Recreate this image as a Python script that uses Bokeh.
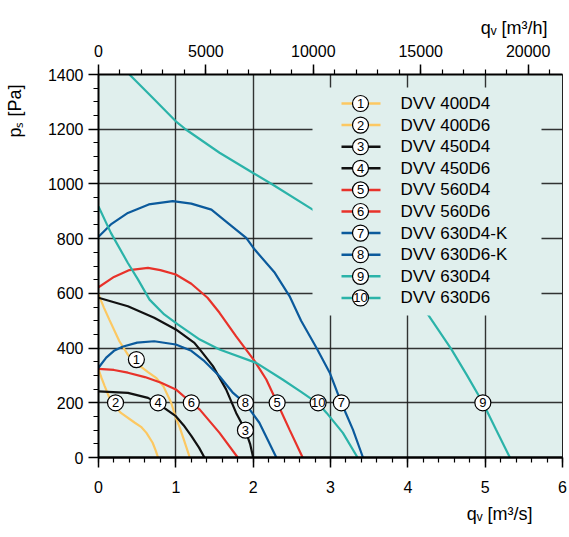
import math
from bokeh.plotting import figure
from bokeh.models import Range1d, LinearAxis, SingleIntervalTicker, Title, BasicTickFormatter
from bokeh.core.properties import value
from bokeh.embed import file_html
from bokeh.resources import INLINE

# ---------------- data ----------------
series_names = ["DVV 400D4", "DVV 400D6", "DVV 450D4", "DVV 450D6", "DVV 560D4",
                "DVV 560D6", "DVV 630D4-K", "DVV 630D6-K", "DVV 630D4", "DVV 630D6"]
series_colors = ["#fcc862", "#fcc862", "#111111", "#111111", "#e8322a",
                 "#e8322a", "#0b5a9c", "#0b5a9c", "#2bb3a9", "#2bb3a9"]

q1 = [0, 0.07, 0.14, 0.27, 0.38, 0.50, 0.64, 0.75, 0.84, 0.94, 1.00, 1.05, 1.11, 1.18]
p1 = [596, 548, 504, 425, 376, 342, 312, 290, 260, 200, 145, 110, 60, 0]
q2 = [0, 0.04, 0.08, 0.16, 0.29, 0.47, 0.55, 0.62, 0.70, 0.74, 0.77]
p2 = [322, 290, 261, 205, 163, 127, 112, 90, 54, 25, 0]
q3 = [0, 0.38, 0.72, 1.00, 1.24, 1.31, 1.48, 1.65, 1.78, 1.90, 1.96, 2.00]
p3 = [584, 553, 511, 468, 419, 395, 334, 249, 163, 99, 50, 0]
q4 = [0, 0.38, 0.64, 0.77, 1.00, 1.10, 1.20, 1.30, 1.37]
p4 = [242, 236, 218, 197, 151, 118, 79, 36, 0]
q5 = [0, 0.2, 0.4, 0.64, 0.8, 1.0, 1.2, 1.41, 1.565, 1.78, 2.02, 2.17, 2.31, 2.47, 2.64]
p5 = [622, 660, 685, 693, 685, 669, 635, 584, 529, 443, 352, 285, 200, 102, 0]
q6 = [0, 0.2, 0.38, 0.60, 0.81, 1.0, 1.2, 1.31, 1.565, 1.8]
p6 = [324, 320, 310, 294, 273, 249, 200, 175, 90, 0]
q7 = [0, 0.16, 0.38, 0.65, 0.96, 1.20, 1.46, 1.67, 1.91, 2.02, 2.28, 2.47, 2.62, 2.82, 2.99, 3.14, 3.29, 3.42]
p7 = [807, 852, 894, 925, 937, 928, 906, 858, 803, 760, 675, 590, 500, 400, 310, 200, 102, 0]
q8 = [0, 0.1, 0.2, 0.31, 0.5, 0.72, 1.0, 1.2, 1.37, 1.565, 1.74, 1.9, 2.08, 2.3]
p8 = [328, 365, 390, 405, 420, 425, 413, 390, 352, 297, 236, 197, 127, 0]
q9 = [0.40, 0.70, 1.00, 1.13, 1.565, 2.01, 2.25, 2.77, 3.5, 4.27, 4.56, 4.76, 4.97, 5.14, 5.32]
p9 = [1400, 1315, 1229, 1199, 1114, 1038, 998, 906, 740, 519, 397, 303, 200, 102, 0]
q10 = [0, 0.16, 0.38, 0.51, 0.66, 0.85, 1.03, 1.31, 1.565, 2.04, 2.38, 2.62, 2.84, 2.95, 3.16, 3.35]
p10 = [918, 821, 711, 651, 577, 523, 486, 431, 395, 346, 285, 240, 197, 163, 90, 0]

curves_q = [q1, q2, q3, q4, q5, q6, q7, q8, q9, q10]
curves_p = [p1, p2, p3, p4, p5, p6, p7, p8, p9, p10]

label_nums = ["1", "2", "3", "4", "5", "6", "7", "8", "9", "10"]
label_q = [0.49, 0.22, 1.90, 0.77, 2.31, 1.20, 3.14, 1.90, 4.97, 2.84]
label_p = [358, 200, 100, 200, 200, 200, 200, 200, 200, 200]

x_title = "q\u1d65  [m\u00b3/s]"
top_title = "q\u1d65  [m\u00b3/h]"
y_title = "p\u209b [Pa]\n "

x_ticks_step = 1
y_ticks_step = 200
top_ticks_step = 5000
Q_MAX = 6
P_MAX = 1400
M3H_PER_M3S = 3600

# ---------------- layout ----------------
BL, BR, BT, BB = 98, 6, 74, 77
FW, FH = 464, 383
W, H = BL + FW + BR, BT + FH + BB
ORG_X, ORG_Y = 1, 1   # observed page offset of the canvas

def qx(px):
    return (px - ORG_X - BL) * Q_MAX / FW

def py(pyy):
    return (ORG_Y + BT + FH - pyy) * P_MAX / FH

FONT = "Liberation Sans"
BG = "#e0efed"

p = figure(width=W, height=H, x_range=Range1d(0, Q_MAX), y_range=Range1d(0, P_MAX),
           output_backend="svg", toolbar_location=None, title_location=None,
           min_border_left=BL, min_border_right=BR, min_border_top=BT, min_border_bottom=BB)
p.background_fill_color = BG
p.border_fill_color = "white"
p.outline_line_color = "#222222"
p.outline_line_width = 1

bottom_axis = p.below[0]
left_axis = p.left[0]

p.extra_x_ranges = {"h": Range1d(0, Q_MAX * M3H_PER_M3S)}
top_axis = LinearAxis(x_range_name="h",
                      ticker=SingleIntervalTicker(interval=top_ticks_step, num_minor_ticks=5),
                      formatter=BasicTickFormatter(use_scientific=False))
p.add_layout(top_axis, "above")

xt = SingleIntervalTicker(interval=x_ticks_step, num_minor_ticks=5)
yt = SingleIntervalTicker(interval=y_ticks_step, num_minor_ticks=4)
bottom_axis.ticker = xt
left_axis.ticker = yt
p.xgrid[0].ticker = xt
p.ygrid[0].ticker = yt

for ax in [bottom_axis, left_axis, top_axis]:
    ax.major_label_text_font = FONT
    ax.major_label_text_font_size = "16px"
    ax.major_label_text_color = "black"
    ax.axis_line_color = "black"
    ax.axis_line_width = 2
    ax.major_tick_line_color = "black"
    ax.minor_tick_line_color = "black"
    ax.major_tick_line_width = 1.5
    ax.minor_tick_line_width = 1.2
    ax.major_tick_in = 0
    ax.minor_tick_in = 0
    ax.major_tick_out = 10
    ax.minor_tick_out = 5
    ax.major_label_standoff = 5
bottom_axis.axis_line_width = 2.5
bottom_axis.major_label_standoff = 13
top_axis.major_label_standoff = 8

for g in [p.xgrid[0], p.ygrid[0]]:
    g.grid_line_color = "#1e1e1e"
    g.grid_line_width = 1.4
    g.grid_line_alpha = 0.9

# titles
p.add_layout(Title(text=x_title, align="right", offset=25, standoff=12, text_font=FONT,
                   text_font_size="18px", text_font_style="normal", text_color="black"), "below")
p.add_layout(Title(text=top_title, align="right", offset=10, standoff=7, text_font=FONT,
                   text_font_size="18px", text_font_style="normal", text_color="black"), "above")
p.add_layout(Title(text=y_title, align="right", offset=10, standoff=0, text_font=FONT,
                   text_font_size="18px", text_font_style="normal", text_color="black"), "left")

# curves
for qs, ps, col in zip(curves_q, curves_p, series_colors):
    p.line(qs, ps, line_color=col, line_width=2.2)

# legend box covering grid and curves
lg_left, lg_right, lg_top, lg_bottom = 313, 542, 88, 316
p.quad(left=qx(lg_left), right=qx(lg_right), top=py(lg_top), bottom=py(lg_bottom),
       fill_color=BG, line_color=None)

row0, row_step = 104, 21.6
n = len(series_names)
ly = [py(row0 + i * row_step) for i in range(n)]
p.segment(x0=[qx(342)] * n, y0=ly, x1=[qx(381)] * n, y1=ly, line_color=series_colors, line_width=2.5)
p.scatter([qx(361)] * n, ly, size=16, marker="circle", fill_color="white", line_color="black", line_width=1.2)
p.text([qx(361)] * n, ly, text=label_nums, text_align="center", text_baseline="middle",
       text_font=value(FONT), text_font_size="13px", text_color="black")
p.text([qx(401)] * n, ly, text=series_names, text_align="left", text_baseline="middle",
       text_font=value(FONT), text_font_size="17px", text_color="black")

# curve number markers
p.scatter(label_q, label_p, size=16, marker="circle", fill_color="white", line_color="black", line_width=1.2)
p.text(label_q, label_p, text=label_nums, text_align="center", text_baseline="middle",
       text_font=value(FONT), text_font_size="13px", text_color="black")

open("out.html", "w").write(file_html(p, INLINE))
